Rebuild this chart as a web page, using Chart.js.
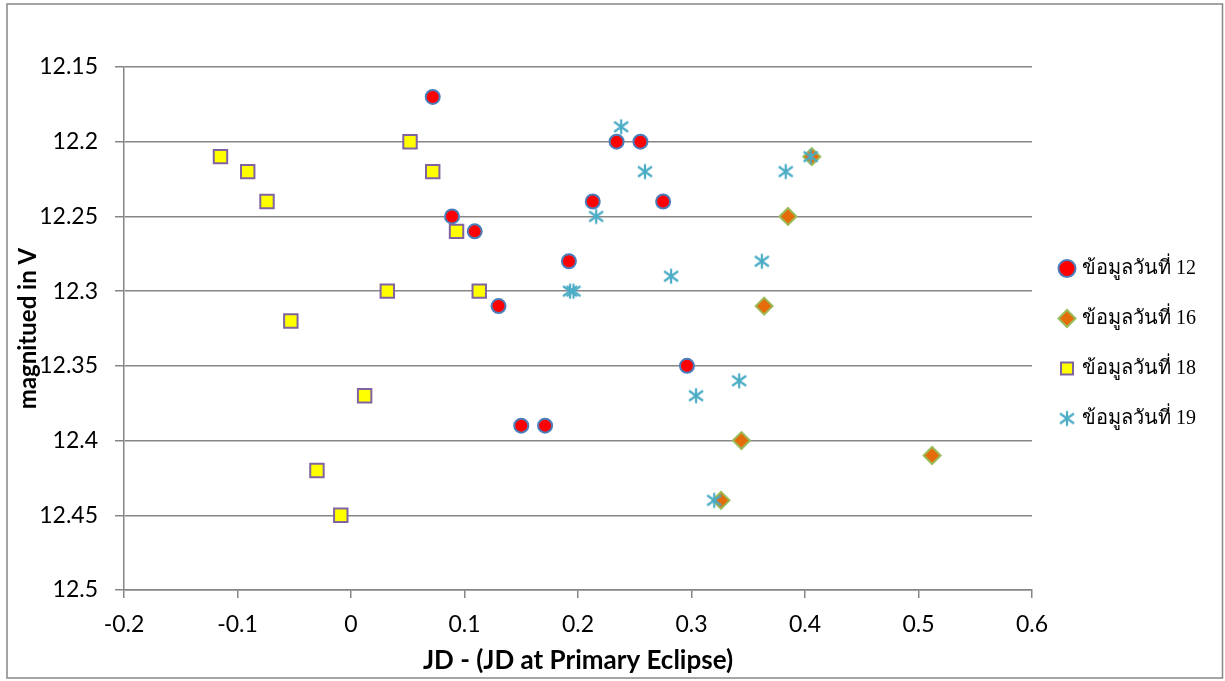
<!DOCTYPE html>
<html><head><meta charset="utf-8">
<script src="https://cdn.jsdelivr.net/npm/chart.js@4.4.1/dist/chart.umd.min.js"></script>
<style>html,body{margin:0;padding:0;background:#fff}canvas{display:block}</style>
</head><body>
<canvas id="c" width="1225" height="681"></canvas>
<script>
// ---- data ----
const seriesNames = ['ข้อมูลวันที่ 12', 'ข้อมูลวันที่ 16', 'ข้อมูลวันที่ 18', 'ข้อมูลวันที่ 19'];

const day12X = [0.072, 0.234, 0.255, 0.213, 0.275, 0.089, 0.109, 0.192, 0.130, 0.150, 0.171, 0.296];
const day12Y = [12.17, 12.20, 12.20, 12.24, 12.24, 12.25, 12.26, 12.28, 12.31, 12.39, 12.39, 12.35];

const day16X = [0.406, 0.385, 0.364, 0.344, 0.326, 0.512];
const day16Y = [12.21, 12.25, 12.31, 12.40, 12.44, 12.41];

const day18X = [-0.115, -0.091, -0.074, 0.052, 0.072, 0.093, 0.032, 0.113, -0.053, 0.012, -0.030, -0.009];
const day18Y = [12.21, 12.22, 12.24, 12.20, 12.22, 12.26, 12.30, 12.30, 12.32, 12.37, 12.42, 12.45];

const day19X = [0.238, 0.259, 0.216, 0.193, 0.196, 0.282, 0.362, 0.383, 0.405, 0.342, 0.304, 0.320];
const day19Y = [12.19, 12.22, 12.25, 12.30, 12.30, 12.29, 12.28, 12.22, 12.21, 12.36, 12.37, 12.44];

const xTickMin = -0.2, xTickMax = 0.6, xTickStep = 0.1;
const yTickMin = 12.15, yTickMax = 12.5, yTickStep = 0.05;

const xTitle = 'JD - (JD at Primary Eclipse)';
const yTitle = 'magnitued in V';

// ---- helpers ----
const pts = (xs, ys) => xs.map((x, i) => ({x: x, y: ys[i]}));

// six-armed asterisk marker (vertical bar + X)
const star = document.createElement('canvas');
star.width = 18; star.height = 18;
(function(){
  const g = star.getContext('2d');
  g.strokeStyle = '#4bacc6'; g.lineWidth = 2.2; g.lineCap = 'butt';
  g.beginPath();
  g.moveTo(9, 1.5); g.lineTo(9, 16.5);
  g.moveTo(2, 4); g.lineTo(16, 14);
  g.moveTo(16, 4); g.lineTo(2, 14);
  g.stroke();
})();

const framePlugin = {
  id: 'frame',
  beforeDraw(chart) {
    const c = chart.ctx;
    c.save();
    c.fillStyle = '#fff';
    c.fillRect(0, 0, chart.width, chart.height);
    c.strokeStyle = '#878787';
    c.lineWidth = 1.5;
    c.strokeRect(7, 4, 1215.5, 674);
    c.restore();
  }
};

const gridCol = '#868686';
const tickFont = {family: 'Lato', size: 23};

const chart = new Chart(document.getElementById('c'), {
  type: 'scatter',
  data: {
    datasets: [
      {label: seriesNames[0], data: pts(day12X, day12Y), order: 3, pointStyle: 'circle', pointRadius: 7, pointHoverRadius: 7,
       backgroundColor: '#ff0000', borderColor: '#4a7ebb', borderWidth: 2},
      {label: seriesNames[1], data: pts(day16X, day16Y), order: 2, pointStyle: 'rectRot', pointRadius: 8.5, pointHoverRadius: 8.5,
       backgroundColor: '#e46c0a', borderColor: '#9bbb59', borderWidth: 2},
      {label: seriesNames[2], data: pts(day18X, day18Y), order: 1, pointStyle: 'rect', pointRadius: 9.5, pointHoverRadius: 9.5,
       backgroundColor: '#ffff00', borderColor: '#8064a2', borderWidth: 2},
      {label: seriesNames[3], data: pts(day19X, day19Y), order: 0, pointStyle: star, pointRadius: 8, pointHoverRadius: 8,
       backgroundColor: '#4bacc6', borderColor: '#4bacc6', borderWidth: 2}
    ]
  },
  options: {
    responsive: false,
    animation: false,
    events: [],
    layout: {padding: {left: 4, right: 25, top: 67, bottom: 3}},
    plugins: {
      tooltip: {enabled: false},
      legend: {
        position: 'right', align: 'center', fullSize: false,
        title: {display: true, text: '', font: {size: 10}, padding: {top: 18, bottom: 0}},
        labels: {
          usePointStyle: true, boxWidth: 10, boxHeight: 12, padding: 30, color: '#000',
          font: {family: "'Liberation Serif', 'Noto Sans', serif", size: 20},
          sort: (a, b) => a.datasetIndex - b.datasetIndex
        }
      }
    },
    scales: {
      x: {
        type: 'linear', position: 'bottom', min: xTickMin, max: xTickMax,
        ticks: {stepSize: xTickStep, padding: 13, color: '#000', font: tickFont,
                callback: v => String(+Number(v).toFixed(1))},
        grid: {drawOnChartArea: false, drawTicks: true, tickLength: 8, color: gridCol, lineWidth: 1.5},
        border: {display: true, color: gridCol, width: 1.5},
        title: {display: true, text: xTitle, color: '#000', font: {family: 'Lato', size: 26, weight: 'bold'},
                padding: {top: 0, bottom: 2}}
      },
      y: {
        type: 'linear', position: 'left', reverse: true, min: yTickMin, max: yTickMax,
        ticks: {stepSize: yTickStep, padding: 17, color: '#000', font: tickFont,
                callback: v => String(+Number(v).toFixed(2))},
        grid: {drawTicks: true, tickLength: 9, color: gridCol, lineWidth: 1.5},
        border: {display: true, color: gridCol, width: 1.5},
        title: {display: true, text: yTitle, color: '#000', font: {family: 'Lato', size: 24, weight: 'bold'},
                padding: {top: 10, bottom: -20}}
      }
    }
  },
  plugins: [framePlugin]
});

// fit the plot area to the reference frame
const target = {left: 124, right: 1032, top: 67, bottom: 590};
for (let k = 0; k < 4; k++) {
  const a = chart.chartArea;
  const dl = a.left - target.left, dr = a.right - target.right;
  const dt = a.top - target.top, db = a.bottom - target.bottom;
  if (Math.abs(dl) < 0.5 && Math.abs(dr) < 0.5 && Math.abs(dt) < 0.5 && Math.abs(db) < 0.5) break;
  const yp = chart.options.scales.y.title.padding;
  chart.options.scales.y.title.padding = {top: yp.top, bottom: yp.bottom - dl};
  const xp = chart.options.scales.x.title.padding;
  chart.options.scales.x.title.padding = {top: xp.top + db, bottom: xp.bottom};
  const lp = chart.options.layout.padding;
  chart.options.layout.padding = {left: lp.left, right: lp.right + dr, top: lp.top - dt, bottom: lp.bottom};
  chart.update('none');
}
</script>
</body></html>
